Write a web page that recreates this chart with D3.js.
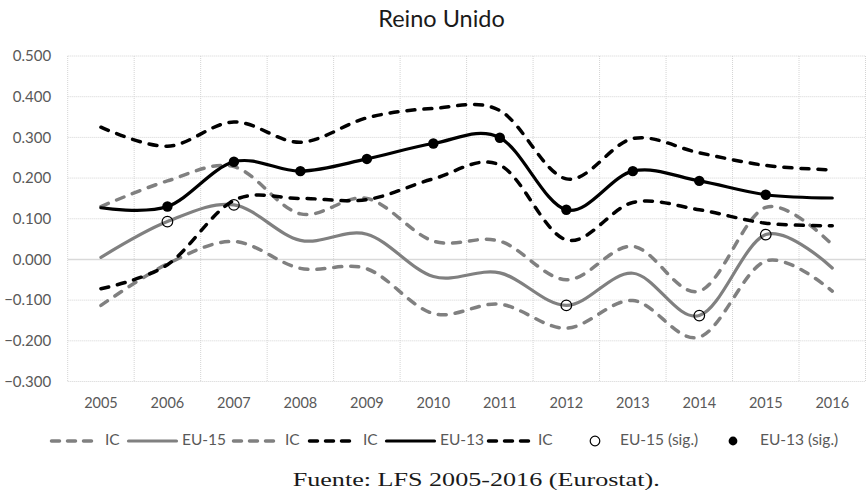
<!DOCTYPE html>
<html>
<head>
<meta charset="utf-8">
<script src="https://cdn.jsdelivr.net/npm/d3@7"></script>
<style>
  html, body { margin: 0; padding: 0; background: #fff; }
  svg { display: block; }
</style>
</head>
<body>
<svg id="chart" width="866" height="491"></svg>
<script>
// ---- Data ----
const years = ["2005","2006","2007","2008","2009","2010","2011","2012","2013","2014","2015","2016"];
const eu15      = [0.005, 0.093, 0.134, 0.047, 0.062, -0.042, -0.033, -0.113, -0.034, -0.138, 0.061, -0.021];
const eu15Upper = [0.130, 0.193, 0.228, 0.112, 0.150, 0.045, 0.045, -0.050, 0.032, -0.078, 0.128, 0.036];
const eu15Lower = [-0.113, -0.011, 0.044, -0.022, -0.023, -0.133, -0.110, -0.169, -0.101, -0.191, -0.004, -0.078];
const eu13      = [0.127, 0.130, 0.240, 0.217, 0.247, 0.285, 0.299, 0.122, 0.217, 0.193, 0.159, 0.151];
const eu13Upper = [0.325, 0.278, 0.338, 0.288, 0.348, 0.371, 0.366, 0.198, 0.297, 0.262, 0.231, 0.220];
const eu13Lower = [-0.072, -0.013, 0.145, 0.150, 0.147, 0.198, 0.232, 0.048, 0.140, 0.122, 0.089, 0.083];
const eu15Sig   = [false, true, true, false, false, false, false, true, false, true, true, false];
const eu13Sig   = [false, true, true, true, true, true, true, true, true, true, true, false];
const yTicks    = [-0.3, -0.2, -0.1, 0, 0.1, 0.2, 0.3, 0.4, 0.5];
const legendLabels = ["IC", "EU-15", "IC", "IC", "EU-13", "IC", "EU-15 (sig.)", "EU-13 (sig.)"];
const titleText = "Reino Unido";
const sourceText = "Fuente: LFS 2005-2016 (Eurostat).";

// ---- Styles / layout ----
const GRAY = "#808080", BLACK = "#000000", TXT = "#595959", GRID = "#d4d4d4";
const SANS = "Lato, 'Open Sans', sans-serif";
const plot = { left: 67.7, right: 865.5, top: 56, bottom: 381.5 };
const legendLayout = {
  y: 441,
  sampleX: [50, 127, 232, 308, 385, 487, 570, 708],
  textX:   [105, 182, 285, 363, 440, 538, 620, 760]
};

const svg = d3.select("#chart");
const x = d3.scaleBand().domain(years).range([plot.left, plot.right]);
const y = d3.scaleLinear().domain([-0.3, 0.5]).range([plot.bottom, plot.top]);
const cx = yr => x(yr) + x.bandwidth() / 2;

// ---- Gridlines ----
const grid = svg.append("g");
grid.selectAll("line.h").data(yTicks.filter(t => Math.abs(t) > 1e-9)).join("line")
  .attr("x1", plot.left).attr("x2", plot.right)
  .attr("y1", d => y(d)).attr("y2", d => y(d))
  .attr("stroke", GRID).attr("stroke-width", 1).attr("stroke-dasharray", "1,1");
const vEdges = years.map(yr => x(yr)).concat([x(years[years.length - 1]) + x.bandwidth()]);
grid.selectAll("line.v").data(vEdges).join("line")
  .attr("x1", d => d).attr("x2", d => d)
  .attr("y1", plot.top).attr("y2", plot.bottom)
  .attr("stroke", GRID).attr("stroke-width", 1).attr("stroke-dasharray", "1,1");
grid.append("line")
  .attr("x1", plot.left).attr("x2", plot.right)
  .attr("y1", y(0)).attr("y2", y(0))
  .attr("stroke", "#d9d9d9").attr("stroke-width", 1.5);

// ---- Axes labels ----
const yAxis = d3.axisLeft(y).tickValues(yTicks).tickFormat(d3.format(".3f")).tickSize(0).tickPadding(0);
const gy = svg.append("g").attr("transform", `translate(${plot.left - 16.5},0)`).call(yAxis);
gy.select(".domain").remove();
gy.selectAll("text").attr("fill", TXT).style("font-family", SANS).style("font-size", "15px");

const xAxis = d3.axisBottom(x).tickSize(0).tickPadding(0);
const gx = svg.append("g").attr("transform", `translate(0,${plot.bottom + 16})`).call(xAxis);
gx.select(".domain").remove();
gx.selectAll("text").attr("fill", TXT).style("font-family", SANS).style("font-size", "14.5px");

// ---- Series ----
const line = d3.line().x((d, i) => cx(years[i])).y(d => y(d)).curve(d3.curveCatmullRom.alpha(0));
const series = [
  { data: eu15Upper, color: GRAY,  dash: true },
  { data: eu15,      color: GRAY,  dash: false },
  { data: eu15Lower, color: GRAY,  dash: true },
  { data: eu13Upper, color: BLACK, dash: true },
  { data: eu13,      color: BLACK, dash: false },
  { data: eu13Lower, color: BLACK, dash: true }
];
const lines = svg.append("g");
series.forEach(s => {
  lines.append("path").datum(s.data)
    .attr("d", line)
    .attr("fill", "none")
    .attr("stroke", s.color)
    .attr("stroke-width", s.dash ? 3.5 : 3.2)
    .attr("stroke-linecap", "round")
    .attr("stroke-linejoin", "round")
    .attr("stroke-dasharray", s.dash ? "8,9" : null);
});

// ---- Significance markers ----
const m15 = years.map((yr, i) => ({ yr, v: eu15[i], s: eu15Sig[i] })).filter(d => d.s);
svg.append("g").selectAll("circle").data(m15).join("circle")
  .attr("cx", d => cx(d.yr)).attr("cy", d => y(d.v)).attr("r", 5.3)
  .attr("fill", "none").attr("stroke", BLACK).attr("stroke-width", 1.2);
const m13 = years.map((yr, i) => ({ yr, v: eu13[i], s: eu13Sig[i] })).filter(d => d.s);
svg.append("g").selectAll("circle").data(m13).join("circle")
  .attr("cx", d => cx(d.yr)).attr("cy", d => y(d.v)).attr("r", 5.2)
  .attr("fill", BLACK);

// ---- Title ----
svg.append("text").attr("x", 441.5).attr("y", 27)
  .attr("text-anchor", "middle").attr("fill", "#1a1a1a")
  .style("font-family", SANS).style("font-size", "23.5px")
  .text(titleText);

// ---- Legend ----
const legendKinds = [
  { kind: "line", color: GRAY, dash: true },
  { kind: "line", color: GRAY, dash: false },
  { kind: "line", color: GRAY, dash: true },
  { kind: "line", color: BLACK, dash: true },
  { kind: "line", color: BLACK, dash: false },
  { kind: "line", color: BLACK, dash: true },
  { kind: "open" },
  { kind: "dot" }
];
const leg = svg.append("g");
const LY = legendLayout.y;
legendKinds.forEach((k, i) => {
  const sx = legendLayout.sampleX[i];
  if (k.kind === "line") {
    const x1 = sx + 1.5;
    const x2 = k.dash ? x1 + 40 : legendLayout.textX[i] - 5.5;
    leg.append("line").attr("x1", x1).attr("x2", x2)
      .attr("y1", LY).attr("y2", LY)
      .attr("stroke", k.color).attr("stroke-width", k.dash ? 3.5 : 3.2)
      .attr("stroke-linecap", "round")
      .attr("stroke-dasharray", k.dash ? "8,8" : null);
  } else if (k.kind === "open") {
    leg.append("circle").attr("cx", sx + 25).attr("cy", LY).attr("r", 4.8)
      .attr("fill", "none").attr("stroke", BLACK).attr("stroke-width", 1.2);
  } else {
    leg.append("circle").attr("cx", sx + 25).attr("cy", LY).attr("r", 4.4).attr("fill", BLACK);
  }
  leg.append("text").attr("x", legendLayout.textX[i]).attr("y", LY)
    .attr("dominant-baseline", "middle").attr("fill", TXT)
    .style("font-family", SANS).style("font-size", "15.5px")
    .text(legendLabels[i]);
});

// ---- Source note ----
svg.append("text").attr("x", 292.7).attr("y", 486)
  .attr("fill", "#1a1a1a")
  .attr("textLength", 367).attr("lengthAdjust", "spacingAndGlyphs")
  .style("font-family", "'Liberation Serif', 'Times New Roman', serif").style("font-size", "19px")
  .text(sourceText);
</script>
</body>
</html>
